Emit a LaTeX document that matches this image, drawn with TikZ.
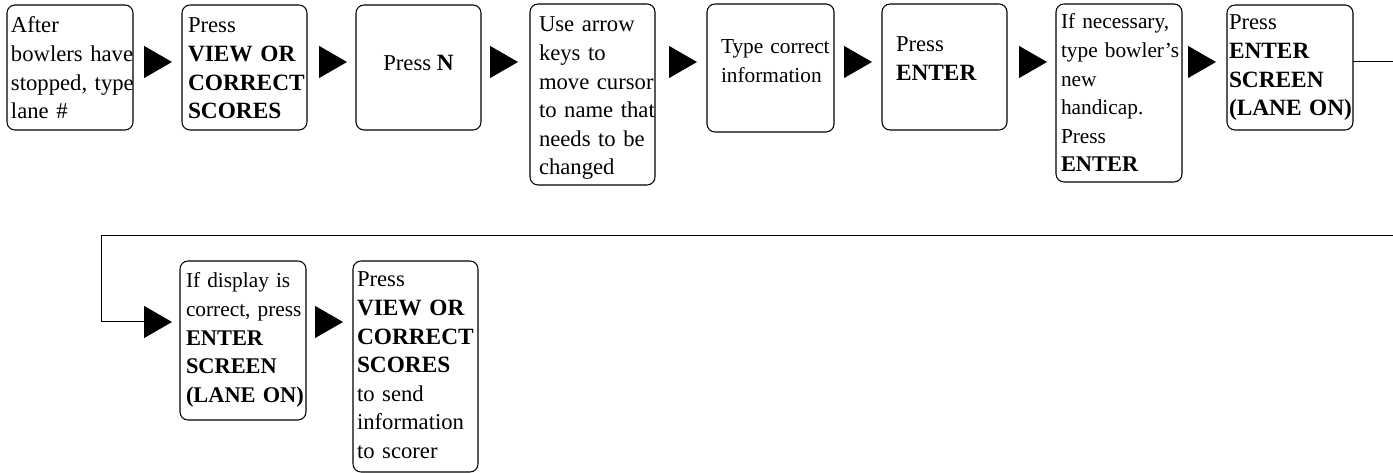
\documentclass[tikz,border=0pt]{standalone}
\usepackage{fontspec}
\setmainfont{Liberation Serif}
\usetikzlibrary{arrows.meta,calc}
\newcommand{\boxfont}{\fontsize{17pt}{21.4pt}\selectfont}
\newcommand{\smallboxfont}{\fontsize{16pt}{21.4pt}\selectfont}
\newcommand{\B}[1]{{\fontsize{17.5pt}{21.4pt}\selectfont\bfseries #1}}
\newcommand{\Bs}[1]{{\fontsize{16.8pt}{21.4pt}\selectfont\bfseries #1}}
\begin{document}
\begin{tikzpicture}[x=0.75pt,y=-0.75pt,
  box/.style={draw, line width=0.8pt, rounded corners=6pt, inner sep=0pt, outer sep=0pt, anchor=north west},
  txt/.style={inner sep=0pt, outer sep=0pt, anchor=base west, align=left, text width=110pt, font=\boxfont},
  stxt/.style={txt, font=\smallboxfont},
  ctxt/.style={inner sep=0pt, outer sep=0pt, anchor=base, font=\boxfont},
  flow/.style={line width=0.75pt, -{Triangle[length=21pt,width=24pt]}},
]
\useasboundingbox (0,0) rectangle (1393,473);
\clip (0,0) rectangle (1393,473);

% boxes
\node[box, minimum width=94.5pt,  minimum height=93.75pt]  (b1)  at (7,5)     {};
\node[box, minimum width=93.75pt, minimum height=93.75pt]  (b2)  at (182,5)   {};
\node[box, minimum width=93.75pt, minimum height=93.75pt]  (b3)  at (356,5)   {};
\node[box, minimum width=93.75pt, minimum height=135.75pt] (b4)  at (530,4)   {};
\node[box, minimum width=95.25pt, minimum height=96pt]     (b5)  at (707,4)   {};
\node[box, minimum width=93.75pt, minimum height=94.5pt]   (b6)  at (882,4)   {};
\node[box, minimum width=94.5pt,  minimum height=133.5pt]  (b7)  at (1056,4)  {};
\node[box, minimum width=94.5pt,  minimum height=93.75pt]  (b8)  at (1227,5)  {};
\node[box, minimum width=94.5pt,  minimum height=119.25pt] (b9)  at (180,261) {};
\node[box, minimum width=93.75pt, minimum height=158.25pt] (b10) at (353,261) {};

% texts
\node[txt] (t1) at (11,33) {After\\bowlers have\\stopped, type\\lane \#};
\node[txt] (t2) at (188,33) {Press\\\B{VIEW OR}\\\B{CORRECT}\\\B{SCORES}};
\node[ctxt] (t3) at (418.5,71) {Press \B{N}};
\node[txt] (t4) at (539,32) {Use arrow\\keys to\\move cursor\\to name that\\needs to be\\changed};
\node[stxt] (t5) at (721,54) {Type correct\\information};
\node[txt] (t6) at (896,52) {Press\\\B{ENTER}};
\node[stxt] (t7) at (1061,29) {If necessary,\\type bowler's\\new\\handicap.\\Press\\\Bs{ENTER}};
\node[txt] (t8) at (1229,30) {Press\\\B{ENTER}\\\B{SCREEN}\\\B{(LANE ON)}};
\node[stxt] (t9) at (186,288) {If display is\\correct, press\\\Bs{ENTER}\\\Bs{SCREEN}\\\Bs{(LANE ON)}};
\node[txt] (t10) at (357,287) {Press\\\B{VIEW OR}\\\B{CORRECT}\\\B{SCORES}\\to send\\information\\to scorer};

% reference rows
\coordinate (r1) at (0,62);
\coordinate (r2) at (0,322);

% row 1 connectors
\draw[flow, shorten <=8.25pt, shorten >=7.5pt]  (b1.east |- r1) -- (b2.west |- r1);
\draw[flow, shorten <=9pt,    shorten >=6.75pt] (b2.east |- r1) -- (b3.west |- r1);
\draw[flow, shorten <=7.5pt,  shorten >=9pt]    (b3.east |- r1) -- (b4.west |- r1);
\draw[flow, shorten <=11.25pt,shorten >=7.5pt]  (b4.east |- r1) -- (b5.west |- r1);
\draw[flow, shorten <=7.5pt,  shorten >=7.5pt]  (b5.east |- r1) -- (b6.west |- r1);
\draw[flow, shorten <=9pt,    shorten >=6.75pt] (b6.east |- r1) -- (b7.west |- r1);
\draw[flow, shorten <=4.5pt,  shorten >=8.25pt] (b7.east |- r1) -- (b8.west |- r1);

% wrap-around connector
\coordinate (c1) at (1400,62);
\coordinate (c2) at (1400,236);
\coordinate (c3) at (101,236);
\coordinate (c4) at (101,322);
\draw[flow, shorten >=6pt] (b8.east |- r1) -- (c1) -- (c2) -- (c3) -- (c4) -- (b9.west |- c4);

% row 2 connector
\draw[flow, shorten <=6.75pt, shorten >=7.5pt] (b9.east |- r2) -- (b10.west |- r2);
\end{tikzpicture}
\end{document}
